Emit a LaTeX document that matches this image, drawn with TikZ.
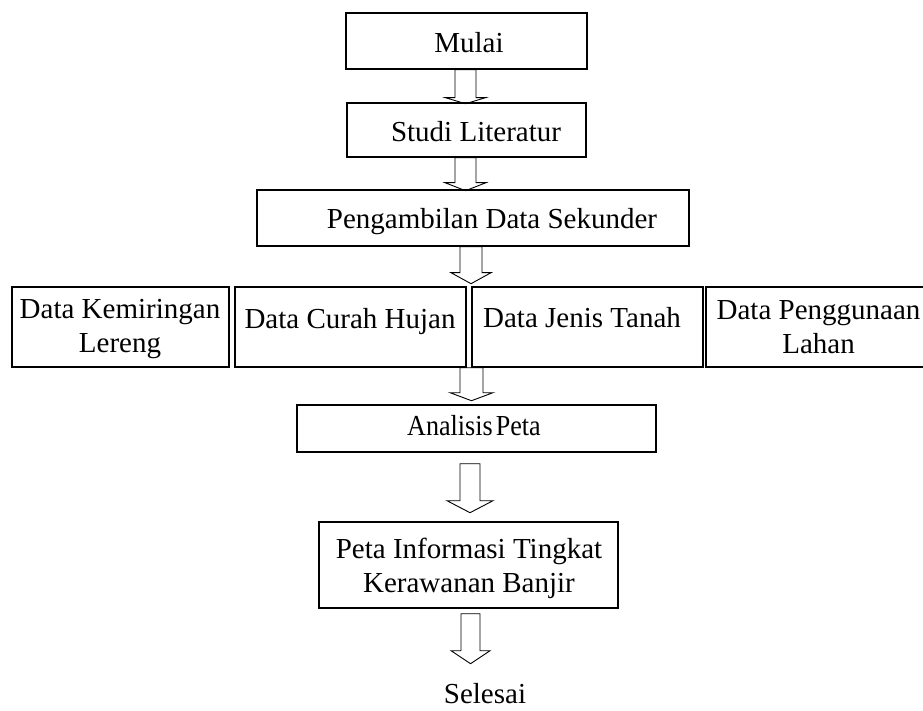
\documentclass[tikz,border=0pt]{standalone}
\usepackage{fontspec}
\setmainfont{Liberation Serif}
\usetikzlibrary{calc}
\tikzset{
  box/.style={draw, line width=1.4pt, inner sep=0pt, rectangle},
  lbl/.style={inner sep=0pt, anchor=base, font=\fontsize{29}{34}\selectfont},
  blockarr/.style={draw, line width=0.9pt, line join=miter}
}
\newcommand{\blkarr}[7]{%
  \begin{scope}[shift={#1}]
    \draw[blockarr] ({#2-#6},#3) -- ({#2-#6},#4) -- ({#2-#7},#4) -- (#2,#5)
      -- ({#2+#7},#4) -- ({#2+#6},#4) -- ({#2+#6},#3) -- cycle;
  \end{scope}}
\begin{document}
\begin{tikzpicture}[x=1pt,y=-1pt]
\clip (0,0) rectangle (923,711);
\useasboundingbox (0,0) rectangle (923,711);

% boxes
\node[box, minimum width=241pt, minimum height=56pt] (mulai) at (466.5,41) {};
\node[box, minimum width=239pt, minimum height=54pt] (studi) at (466.5,130) {};
\node[box, minimum width=432pt, minimum height=56pt] (ambil) at (473,218) {};
\node[box, minimum width=217pt, minimum height=80pt] (miring) at (120.5,327) {};
\node[box, minimum width=231pt, minimum height=80pt] (curah) at (350.5,327) {};
\node[box, minimum width=231pt, minimum height=80pt] (tanah) at (587.5,327) {};
\node[box, minimum width=226pt, minimum height=80pt] (guna) at (819,327) {};
\node[box, minimum width=359pt, minimum height=47pt] (analisis) at (476.5,428.5) {};
\node[box, minimum width=299pt, minimum height=86pt] (peta) at (468.5,565) {};

% texts
\node[lbl] (tmulai) at (469,53) {Mulai};
\node[lbl] (tstudi) at (476,142) {Studi Literatur};
\node[lbl] (tambil) at (492,229) {Pengambilan Data Sekunder};
\node[lbl] (tmiring) at (120,318) {\begin{tabular}[t]{@{}c@{}}Data Kemiringan\\Lereng\end{tabular}};
\node[lbl] (tcurah) at (350,328) {Data Curah Hujan};
\node[lbl] (ttanah) at (582,327) {Data Jenis Tanah};
\node[lbl] (tguna) at (818.5,319) {\begin{tabular}[t]{@{}c@{}}Data Penggunaan\\Lahan\end{tabular}};
\node[lbl] (tanalisis) at (474,435) {\scalebox{0.9}[1]{Analisis\hspace{0.12em}Peta}};
\node[lbl] (tpeta) at (469,558) {\begin{tabular}[t]{@{}c@{}}Peta Informasi Tingkat\\Kerawanan Banjir\end{tabular}};
\node[lbl] (selesai) at (485,703.5) {Selesai};

% block arrows
\blkarr{(mulai.south)}{-1}{0}{28}{34}{10.5}{20}
\blkarr{(studi.south)}{-1}{0}{25}{33}{10.5}{20.5}
\blkarr{(ambil.south)}{-2}{0}{26}{37}{11}{20}
\coordinate (midcd) at ($(curah.south east)!0.5!(tanah.south west)$);
\blkarr{(midcd)}{2.5}{0}{25}{33}{11.5}{21.5}
\blkarr{(analisis.south)}{-6.5}{11}{48}{60}{10}{23}
\blkarr{(peta.south)}{2}{5}{42}{55}{9.5}{19.5}
\end{tikzpicture}
\end{document}
